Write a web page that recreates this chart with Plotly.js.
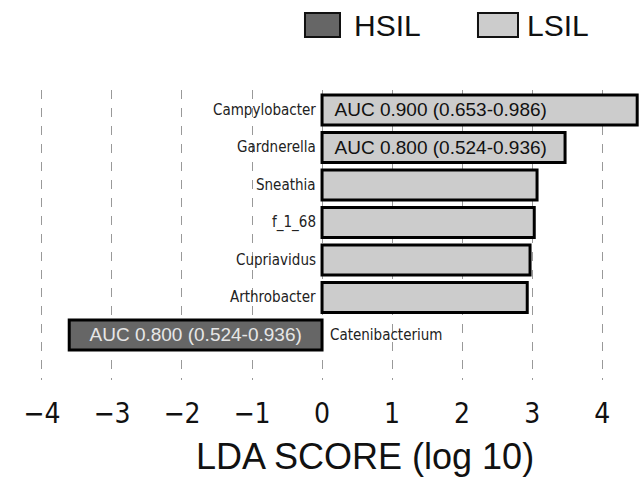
<!DOCTYPE html>
<html><head><meta charset="utf-8">
<script src="https://cdn.plot.ly/plotly-3.0.1.min.js"></script>
<style>html,body{margin:0;padding:0;background:#fff}</style>
</head><body><div id="chart" style="width:644px;height:482px"></div>
<script>
const categories = ["Campylobacter","Gardnerella","Sneathia","f_1_68","Cupriavidus","Arthrobacter","Catenibacterium"];
const groups = ["LSIL","LSIL","LSIL","LSIL","LSIL","LSIL","HSIL"];
const ldaScores = [4.50, 3.47, 3.07, 3.03, 2.97, 2.93, -3.61];
const aucLabels = ["AUC 0.900 (0.653-0.986)","AUC 0.800 (0.524-0.936)","","","","","AUC 0.800 (0.524-0.936)"];
const tickVals = [-4,-3,-2,-1,0,1,2,3,4];
const groupNames = ["HSIL","LSIL"];
const groupColors = ["#666666","#cccccc"];

function pick(g){
  const idx = categories.map((c,i)=>i).filter(i=>groups[i]===g);
  return {y: idx.map(i=>categories[i]), x: idx.map(i=>ldaScores[i]), text: idx.map(i=>aucLabels[i])};
}
const h = pick("HSIL"), l = pick("LSIL");
const traces = [
  {type:'bar', orientation:'h', name:'HSIL', x:h.x, y:h.y, text:h.text,
   textposition:'inside', insidetextanchor:'middle', constraintext:'none',
   textfont:{family:'Liberation Sans, Arial', size:19, color:'#e6e6e6'},
   marker:{color:groupColors[0], line:{color:'#000', width:3}}, width:0.8, showlegend:false},
  {type:'bar', orientation:'h', name:'LSIL', x:l.x, y:l.y, text:l.text.map(t=>t?'  '+t:t),
   textposition:'inside', insidetextanchor:'start', constraintext:'none',
   textfont:{family:'Liberation Sans, Arial', size:19, color:'#111'},
   marker:{color:groupColors[1], line:{color:'#000', width:3}}, width:0.8, showlegend:false}
];
const annotations = categories.map((c,i)=>({
  x:0, y:c, xref:'x', yref:'y', text:c, showarrow:false,
  xanchor: ldaScores[i] >= 0 ? 'right' : 'left',
  xshift: ldaScores[i] >= 0 ? -4 : 6,
  font:{family:'DejaVu Sans Condensed, DejaVu Sans', size:15, color:'#222'}
}));
annotations.push({xref:'paper', yref:'paper', x:0.549, y:-0.2655, yanchor:'middle', xanchor:'center', showarrow:false,
  text:'LDA SCORE (log 10)', font:{family:'Liberation Sans, Arial', size:36, color:'#111'}});
// custom legend (text labels)
const legX = [0.5279, 0.8115];
groupNames.forEach((g,i)=>annotations.push({xref:'paper', yref:'paper', x:legX[i], y:1.2241, xanchor:'left', yanchor:'middle',
  showarrow:false, text:g, font:{family:'Liberation Sans, Arial', size:30, color:'#111'}}));
const swX = [[0.4508,0.5082],[0.7344,0.80]];
const shapes = groupNames.map((g,i)=>({type:'rect', xref:'paper', yref:'paper', x0:swX[i][0], x1:swX[i][1], y0:1.1828, y1:1.2655,
  fillcolor:groupColors[i], line:{color:'#111', width:2}}));
const layout = {
  width:644, height:482,
  margin:{l:30, r:4, t:90, b:102},
  paper_bgcolor:'#fff', plot_bgcolor:'#fff',
  barmode:'overlay',
  showlegend:false,
  xaxis:{range:[-4.17, 4.54], tickvals:tickVals, showgrid:true, gridcolor:'#999', griddash:'dash', gridwidth:1,
    zeroline:false, showline:false, ticks:'', ticklabelstandoff:14,
    tickfont:{family:'DejaVu Sans Condensed, DejaVu Sans', size:28, color:'#111'}},
  yaxis:{type:'category', categoryorder:'array', categoryarray:categories, range:[7.2, -0.53],
    showticklabels:false, showgrid:false, zeroline:false, showline:false, ticks:''},
  annotations:annotations, shapes:shapes
};
Plotly.newPlot('chart', traces, layout, {displayModeBar:false, staticPlot:true});
</script></body></html>
